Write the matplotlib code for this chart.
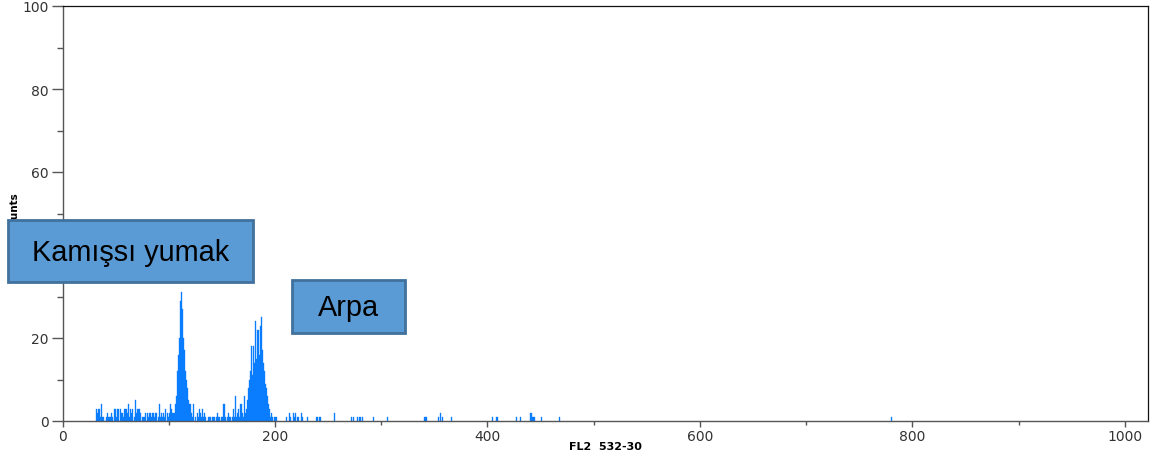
import matplotlib
matplotlib.use("Agg")
import matplotlib.pyplot as plt
from matplotlib.patches import Rectangle
from matplotlib.ticker import MultipleLocator

# ---- data: FL2 histogram channels and counts ----
bg1_channels = list(range(32, 105))
bg1_counts = [3, 2, 3, 3, 1, 4, 1, 1, 0, 1, 2, 1, 1, 1, 2, 1, 0, 3, 3, 1,
              3, 3, 0, 3, 2, 1, 3, 3, 3, 2, 4, 1, 3, 2, 3, 0, 1, 5, 2, 3,
              3, 2, 0, 1, 1, 1, 2, 0, 2, 1, 2, 2, 1, 2, 2, 1, 2, 0, 1, 4,
              1, 2, 1, 2, 1, 3, 0, 2, 1, 2, 4, 3, 2]

peak1_channels = list(range(105, 123))
peak1_counts = [2, 4, 6, 12, 16, 20, 29, 31, 27, 20, 17, 12, 10, 8, 5, 4, 2, 1]

bg2_channels = list(range(123, 173))
bg2_counts = [4, 0, 1, 0, 2, 1, 3, 2, 1, 3, 1, 2, 1, 0, 1, 1, 1, 0, 1, 1,
              1, 0, 1, 2, 1, 1, 0, 1, 1, 4, 1, 0, 1, 2, 1, 1, 0, 1, 3, 1,
              6, 1, 2, 3, 1, 4, 2, 1, 6, 2]

peak2_channels = list(range(173, 202))
peak2_counts = [3, 5, 8, 10, 12, 18, 11, 18, 14, 24, 15, 22, 16, 23, 25, 17,
                14, 12, 9, 8, 6, 4, 3, 1, 2, 1, 0, 1, 1]

tail_channels = [211, 214, 215, 217, 218, 219, 221, 222, 225, 226, 231, 239,
                 240, 242, 243, 256, 272, 274, 278, 280, 282, 293, 306, 341,
                 342, 343, 354, 356, 358, 366, 405, 409, 427, 431, 441, 442,
                 443, 444, 451, 468, 780]
tail_counts = [1, 2, 1, 2, 1, 2, 1, 1, 2, 1, 1, 1,
               1, 1, 1, 2, 1, 1, 1, 1, 1, 1, 1, 1,
               1, 1, 1, 2, 1, 1, 1, 1, 1, 1, 2, 1,
               1, 1, 1, 1, 1]

x_ticks = [0, 200, 400, 600, 800, 1000]
y_ticks = [0, 20, 40, 60, 80, 100]
x_label = "FL2  532-30"
y_label = "Counts"
annotations = ["Kamışsı yumak", "Arpa"]

channels = bg1_channels + peak1_channels + bg2_channels + peak2_channels + tail_channels
counts = bg1_counts + peak1_counts + bg2_counts + peak2_counts + tail_counts

W, H = 1150, 456
fig = plt.figure(figsize=(W / 100, H / 100), dpi=100)
ax = fig.add_axes([62.5 / W, 34 / H, (1148 - 62.5) / W, (422 - 7) / H])

ax.bar(channels, counts, width=1.0, color="#0a7dff", edgecolor="#0a7dff",
       linewidth=0.25, align="center")

ax.set_xlim(0, (1148 - 62.5) / 1.0624)
ax.set_ylim(0, 100)
ax.set_xticks(x_ticks)
ax.set_yticks(y_ticks)
ax.xaxis.set_minor_locator(MultipleLocator(100))
ax.yaxis.set_minor_locator(MultipleLocator(10))

for s in ["left", "bottom"]:
    ax.spines[s].set_color("#555555")
    ax.spines[s].set_linewidth(1.0)
for s in ["top", "right"]:
    ax.spines[s].set_color("#111111")
    ax.spines[s].set_linewidth(0.9)

ax.tick_params(axis="y", which="major", direction="out", length=8, width=1,
               color="#555555", labelsize=10, labelcolor="#333333", pad=2)
ax.tick_params(axis="y", which="minor", direction="out", length=4, width=1,
               color="#555555")
ax.tick_params(axis="x", which="major", direction="out", length=4, width=1,
               color="#555555", labelsize=10, labelcolor="#333333", pad=2)
ax.tick_params(axis="x", which="minor", direction="out", length=3, width=1,
               color="#555555")
for lbl in ax.get_xticklabels() + ax.get_yticklabels():
    lbl.set_family("DejaVu Sans")

ax.set_xlabel(x_label, fontsize=8, fontweight="bold", family="DejaVu Sans",
              labelpad=-2)
fig.text(15 / W, 1 - 213 / H, y_label, rotation=90, fontsize=7.5,
         fontweight="bold", family="DejaVu Sans", ha="center", va="center")

# annotation boxes
boxes = [(8, 221, 253, 283), (292, 281, 405, 334)]
for (x0, y0, x1, y1), txt in zip(boxes, annotations):
    fig.add_artist(Rectangle((x0 / W, 1 - y1 / H), (x1 - x0) / W, (y1 - y0) / H,
                             transform=fig.transFigure, facecolor="#5b9bd5",
                             edgecolor="#41719c", linewidth=2, zorder=5))
    fig.text((x0 + x1) / 2 / W, 1 - ((y0 + y1) / 2 + 1) / H, txt,
             fontsize=20.8, family="Liberation Sans", color="black",
             ha="center", va="center", zorder=6)

fig.savefig("out.png", dpi=100)
